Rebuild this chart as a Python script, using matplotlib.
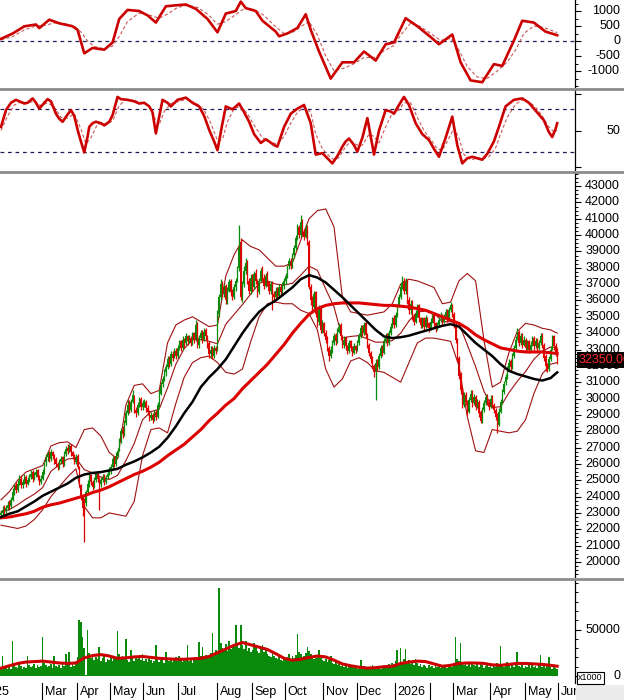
import numpy as np
import matplotlib
matplotlib.use('Agg')
import matplotlib.pyplot as plt
import matplotlib.transforms as mtransforms
from matplotlib.lines import Line2D
from matplotlib.patches import Rectangle


def nums(s):
    return np.array(s.split(), dtype=float)


# daily candles, prices in hundreds (one row per month)
opens = nums("""
229 230 233 231 233 236 234 238 243 247 244 248 251 247 249 252 248 250 252 255 251 253 256 252 249
251 255 261 264 267 263 267 265 263 260 258 261 264 260 266 270 268 271 267 265 261
265 258 247 240 238 236 243 248 253 249 246 250 254 251 248 250 253 249 252 254
256 258 264 260 265 269 274 281 278 285 291 297 293 298 301 293 291 296 300 295
297 298 294 292 288 290 287 292 289 296 303 309 312 316 319 325 321 327 326 329 326
331 335 331 336 334 338 335 337 334 340 336 346 333 337 341 336 342 338 334 327 331 326 331
330 352 362 371 364 369 360 366 372 365 362 368 372 380 396 362 370 378 384 372 366
374 368 377 372 365 372 379 374 369 376 371 366 371 364 362 367 363 368 365 369
372 375 381 384 381 388 392 398 405 400 408 402 399 405 396 368 361 356 365 352 347 356 342
346 340 337 331 326 330 334 339 335 341 345 338 333 337 332 329 335 331 328 332
330 334 338 344 340 346 339 333 328 325 320 316 323 319 326 332 328 335 339 334 340 344 349
345 351 357 362 369 372 366 372 360 354 359 350 347 352 357 349 345 349 344 349 346
343 347 351 346 343 345 349 351 347 350 354 349 354 357
352 345 336 325 314 305 296 302 298 292 299 304 297 301 296 298 292 286 293 297 302 298
295 301 296 293 290 284 292 298 304 310 313 318 323 319 326 331 337 341 334 339 333
336 331 335 330 333 337 332 336 331 334 339 333 326 320 318 324 331 338 332 330
""") * 100
highs = nums("""
232 234 235 235 237 238 240 245 248 249 250 253 253 251 254 253 252 254 256 256 255 257 257 253 253
257 261 266 268 268 269 268 266 264 261 263 265 265 268 271 272 272 272 268 266 266
266 259 248 241 239 244 250 254 254 250 252 255 255 252 252 254 254 253 256 258
260 265 265 267 270 276 282 283 287 293 299 299 300 305 302 295 298 301 301 299
300 299 296 293 292 291 293 293 298 305 310 314 318 321 326 326 329 329 331 331 333
336 336 338 337 340 339 339 338 341 341 348 347 339 342 342 343 343 339 335 332 332 333 332
354 364 373 372 370 370 368 373 373 367 370 374 381 406 398 372 381 386 385 374 376
376 378 379 373 374 380 381 376 377 378 372 372 372 366 368 368 370 370 371 374
377 382 386 386 389 394 400 407 406 412 410 404 407 406 397 370 363 366 366 354 357 357 348
347 342 338 332 332 336 340 340 343 346 346 339 338 338 333 336 336 332 334 333
336 340 345 345 347 347 340 334 329 326 321 324 324 328 333 333 337 340 340 342 346 350 351
353 358 364 371 375 374 374 373 362 360 360 352 354 358 358 350 350 350 351 350 347
349 352 352 347 347 350 353 352 352 355 355 356 359 358
353 346 337 326 316 307 304 304 299 301 305 305 303 302 300 299 293 295 299 303 303 300
302 302 297 294 291 294 300 306 311 315 320 324 324 328 333 338 343 342 340 340 338
337 336 336 335 338 338 337 337 336 340 340 334 327 322 326 332 339 339 334 331
""") * 100
lows = nums("""
227 229 229 230 232 232 233 237 241 242 243 247 245 245 248 246 247 249 251 249 250 252 250 247 248
250 254 259 262 261 262 263 260 258 256 257 260 258 259 265 266 267 265 263 260 260
257 246 238 228 212 234 242 246 247 244 245 249 249 232 246 249 247 248 251 253
254 257 258 259 264 268 273 276 277 284 290 291 292 297 291 289 290 295 293 293
295 292 290 286 287 285 286 287 288 295 302 307 311 314 318 319 320 323 325 324 325
330 329 330 331 333 333 334 332 333 334 335 331 331 336 334 335 336 331 325 325 324 325 327
329 350 360 362 362 358 358 365 363 360 361 366 371 378 360 359 368 376 370 364 364
366 367 370 362 364 371 372 367 368 369 364 364 354 360 360 361 362 363 364 367
370 374 379 379 380 386 391 397 398 399 400 397 398 394 367 357 353 354 350 344 345 340 340
338 334 329 323 325 328 333 333 334 340 336 331 331 330 327 328 329 326 327 328
329 333 337 338 339 337 331 326 322 318 313 299 317 318 325 326 327 334 332 333 339 343 343
344 350 356 361 367 364 364 358 352 352 348 345 346 350 347 343 343 342 343 344 341
342 346 344 341 342 344 347 345 346 349 347 348 353 350
343 334 323 312 303 294 295 296 290 291 298 295 296 293 294 289 285 285 292 296 296 293
294 294 291 287 279 283 291 297 303 308 312 317 317 318 325 330 336 332 333 331 332
329 330 328 329 332 330 331 329 330 333 331 323 317 316 317 323 330 330 326 321
""") * 100
closes = nums("""
230 232 231 233 235 234 238 243 246 244 248 250 247 249 251 248 250 252 254 251 253 255 252 249 251
255 260 264 266 263 267 265 262 260 258 261 263 260 266 269 268 270 267 265 262 264
258 247 240 233 235 243 248 252 249 246 250 253 251 248 250 252 249 251 254 256
258 263 260 265 268 274 280 278 285 291 296 293 298 302 293 291 296 299 295 297
298 294 292 288 290 287 291 289 296 303 308 312 316 319 324 321 327 325 329 326 331
334 331 336 333 338 335 337 334 339 336 345 333 337 340 336 341 338 333 327 330 326 331 329
352 362 370 364 368 360 366 371 365 362 368 372 378 392 362 370 378 383 372 366 374
368 376 372 365 372 378 374 369 375 371 366 370 364 362 366 363 368 365 369 372
375 380 384 381 387 392 398 404 400 408 402 399 404 396 368 360 356 364 352 347 355 342 346
340 336 331 326 330 334 338 335 341 344 338 333 336 332 329 334 331 328 332 330
334 338 343 340 345 339 333 328 324 320 316 322 319 326 331 328 335 338 334 340 344 348 345
351 356 362 368 372 366 371 360 354 358 350 347 352 356 349 345 348 344 349 346 343
347 350 346 343 345 348 351 347 350 353 349 354 357 352
345 336 325 314 305 296 302 298 292 299 303 297 301 295 298 291 286 293 297 301 298 295
300 296 293 289 284 292 298 304 309 313 318 322 319 326 331 336 340 334 338 333 336
331 334 330 333 336 332 335 331 334 338 333 325 320 318 324 330 337 332 328 323.5
""") * 100
# volume, thousands of the x1000 unit
volume = nums("""
8 22 9 10 7 11 8 38 12 10 9 13 11 8 10 9 22 12 10 11 13 9 12 10 11
42 14 12 10 11 13 9 22 11 10 12 9 13 11 24 12 26 10 13 11 14
20 60 58 42 30 1 49 25 19 22 17 20 18 31 16 19 21 15 18 17
20 16 22 19 48 24 18 21 20 40 17 15 28 19 16 21 18 22 17 24
16 18 15 19 17 14 16 33 18 15 20 17 14 26 19 16 18 15 17 20 16
22 17 15 19 18 33 16 19 14 17 20 18 37 21 31 19 23 22 20 25 46 24 28
26 95 36 30 28 34 27 38 29 33 31 55 35 30 55 33 29 38 27 30 26
28 35 31 27 25 29 33 26 29 24 22 20 25 22 19 18 21 17 16 19
18 20 24 17 21 19 23 45 26 24 20 22 25 31 27 24 20 18 19 22 28 19 17
16 18 15 17 22 14 13 15 12 14 11 13 10 12 9 11 10 12 9 11
8 10 17 9 11 8 10 7 9 12 8 10 7 9 8 11 9 12 10 13 11 14 12
16 28 13 30 15 18 29 14 17 13 15 12 18 14 11 13 10 12 11 9 12
10 11 9 12 10 13 9 11 10 12 9 11 13 10
12 42 18 16 35 14 12 15 11 13 10 14 12 11 13 10 15 12 9 11 13 10
11 9 12 10 14 11 32 13 10 12 15 11 9 13 10 12 26 11 10 12 9
11 10 13 9 12 10 11 9 12 23 10 11 9 12 20 10 8 11 9 7
""") * 1000

# smooth lines read every 5 bars (last point = last bar)
line_bars = np.r_[0:335:5, 334]
ma_black = nums("""
227.5 229.5 231 234 237 240.5 243 245.5 248 251.5
253.5 254.5 255 256 257 259.5 261.5 264 267 270.5
276 283 291 298 307 313 318 324 332 340
347 353 357 360 364 368 373 375.5 374 371
366.5 362 357 352 347 342 338 337 337.5 338.5
340 341.5 343 344.5 345.5 344 339 334 330 326
321 317 315 313.5 312 311 312.5 316
""") * 100
ma_red = nums("""
227 227.5 228.5 229.5 231 233.5 235 236 237.5 239
240.5 242.5 244 246 248.5 251 253.5 255.5 258 261
265 268.5 272 276.5 281 286.5 291 296 300 306
311 316 321 327 333 340 346 351.5 355 357
358 358.5 358.5 358.5 358 357.5 357 357 356.5 356
355 354 352 350 348 346 343 339 336 333.5
331 330 329 328.5 328.5 328.5 328 327.5
""") * 100
bb_upper = nums("""
238 243 250 255 257 259 271 273 273.5 270
281 282 277 267 263 296 308 309 303 305
334 345 348 350 347 344 345 375 388 397
393 391 386 381 381 383 397 410 415 416
405 362 353 352 351 352 353 358 370 373
372 370 368 358 359 372 376.5 372 336 307
310 328 341 346 345 343 342 340
""") * 100
bb_mid = nums("""
230.5 232 235 238.5 241.5 245.5 255.5 259.5 263 263.5
256.5 254.5 252 250.5 253 262 272.5 287 292 293.5
306.5 321 330.5 336 336 335 333.5 345.5 351.5 357.5
364 370.5 372 370 369.5 370.5 375.5 381 378.5 367
356 337 338 338.5 336.5 334.5 334.5 335.5 340 347.5
353 353.5 352.5 347 347 346 333 319.5 304.5 294.5
295 303.5 310.5 316.5 324 329 331.5 331
""") * 100
bb_lower = nums("""
222.5 221.5 220.5 222 226 232 240 246 252 257
234 227 227 230 229 228 237 265 281 282
279 297 313 322 325 326 322 316 315 318
335 350 358 359 358 358 354 352 342 318
307 312 323 325 322 317 316 313 310 322
334 337 337 336 335 320 289 268 267 281
280 279 280 287 303 315 321 322
""") * 100
vol_ma = nums("""
8.5 11 13.5 15 15.5 16 15 14 13.5 14
19.5 22 23 21.5 19 19.5 20.5 21 20 19
18.5 18 18 18.5 19 21 25 29 33 36
33.5 31 28.5 24 19 17 18 20 21.5 20.5
17 13 11 9.5 8.5 9 10 10.5 13.5 15
16 15.5 13 10.5 11.5 13.5 14 14 13.5 12
11.5 12.5 13.5 13.5 13 12.5 11.5 10.5
""") * 1000

# MACD and signal, read at turning points (bar, value)
macd_bars = [0, 7, 14, 21, 23, 29, 35, 43, 46, 50, 55, 62, 67, 71, 76, 83, 88, 93, 99, 105,
             111, 117, 124, 130, 135, 141, 144, 147, 153, 157, 165, 167, 172, 178, 183, 186, 191, 198, 205, 212,
             218, 225, 231, 236, 243, 250, 258, 263, 266, 271, 276, 282, 289, 296, 301, 308, 313, 320, 327, 334]
macd = [72, 250, 490, 550, 430, 710, 590, 490, 370, -410, -230, -290, -50, 735, 1036, 1000, 855, 615, 1157, 1190,
        1217, 1072, 735, 290, 915, 1000, 1313, 1097, 1000, 675, 313, 157, 253, 434, 892, 374, -350, -1253, -710, -710,
        -350, -650, -108, -48, 760, 494, 133, -108, 12, 217, -710, -1313, -1374, -771, -831, 12, 675, 615, 313, 193]
signal_bars = [0, 7, 14, 21, 26, 32, 38, 44, 48, 52, 56, 62, 67, 71, 76, 83, 90, 95, 100, 106,
               112, 118, 124, 130, 135, 141, 146, 152, 158, 165, 170, 175, 180, 185, 190, 195, 200, 206, 212, 218,
               224, 230, 236, 240, 246, 252, 258, 264, 270, 274, 280, 286, 292, 298, 304, 309, 314, 320, 326, 334]
signal = [40, 150, 370, 500, 520, 600, 580, 500, 300, 0, -180, -260, -170, 150, 650, 930, 850, 760, 900, 1120,
          1190, 1120, 900, 560, 650, 880, 1080, 1050, 850, 470, 250, 280, 480, 650, 200, -500, -1000, -900, -760, -550,
          -550, -330, -150, 200, 600, 480, 250, 20, 90, -200, -850, -1200, -1250, -1000, -700, -300, 250, 500, 450, 280]

# stochastic %K and %D (bar, value)
stoch_k_bars = [0, 3, 6, 9, 11, 14, 16, 19, 21, 23, 26, 28, 30, 33, 35, 37, 40, 42, 44, 46,
                48, 50, 52, 53, 55, 57, 60, 62, 65, 67, 70, 72, 76, 80, 83, 86, 89, 91, 93, 97,
                100, 102, 106, 111, 115, 119, 122, 125, 128, 130, 133, 135, 139, 143, 146, 149, 152, 156, 159, 161,
                164, 166, 170, 174, 178, 182, 186, 189, 193, 196, 199, 202, 205, 207, 209, 212, 214, 217, 220, 224,
                227, 231, 234, 236, 239, 242, 245, 249, 253, 257, 260, 263, 267, 271, 274, 277, 280, 283, 286, 289,
                292, 296, 299, 303, 308, 313, 317, 320, 323, 326, 329, 331, 333, 334]
stoch_k = [55, 78, 88, 92, 90, 87, 88, 94, 88, 80, 88, 93, 90, 73, 66, 62, 72, 78, 70, 51,
           35, 20, 42, 55, 60, 62, 60, 57, 62, 71, 96, 93, 92, 90, 87, 88, 83, 75, 46, 92,
           88, 83, 92, 95, 88, 83, 70, 51, 35, 23, 60, 83, 79, 87, 75, 62, 45, 33, 38, 35,
           30, 28, 55, 73, 80, 85, 60, 17, 19, 12, 5, 15, 28, 35, 39, 30, 21, 40, 67, 17,
           50, 78, 76, 73, 85, 96, 85, 60, 45, 37, 25, 14, 40, 69, 30, 5, 12, 14, 12, 10,
           18, 35, 55, 83, 92, 94, 88, 80, 72, 64, 48, 41, 52, 60]
stoch_d_bars = [0, 4, 8, 12, 16, 20, 24, 28, 32, 36, 40, 44, 48, 51, 54, 58, 63, 67, 71, 75,
                80, 85, 89, 92, 95, 98, 102, 107, 112, 118, 122, 126, 130, 133, 136, 140, 144, 148, 152, 157,
                161, 166, 170, 174, 178, 182, 186, 189, 193, 197, 200, 203, 207, 210, 214, 217, 221, 224, 227, 231,
                235, 239, 242, 246, 250, 254, 258, 262, 265, 268, 272, 275, 278, 282, 286, 290, 293, 297, 300, 304,
                309, 313, 318, 321, 325, 329, 332, 334]
stoch_d = [50, 70, 85, 89, 88, 90, 84, 88, 82, 68, 67, 73, 52, 32, 40, 59, 59, 63, 84, 93,
           91, 88, 85, 68, 58, 76, 87, 90, 93, 86, 78, 60, 36, 38, 62, 80, 83, 73, 57, 40,
           35, 31, 42, 60, 75, 82, 75, 45, 25, 15, 10, 13, 28, 35, 30, 30, 45, 42, 33, 55,
           74, 78, 88, 88, 68, 50, 38, 25, 23, 35, 53, 40, 17, 10, 12, 12, 14, 26, 45, 68,
           86, 92, 88, 82, 70, 55, 48, 50]

# month boundaries (bar index) for the time axis
month_bars = [-13, 25, 46, 66, 86, 107, 130, 151, 171, 194, 214, 237, 258, 272, 294, 315, 335]
month_names = ['2025', 'Mar', 'Apr', 'May', 'Jun', 'Jul', 'Aug', 'Sep', 'Oct', 'Nov', 'Dec',
               '2026', '', 'Mar', 'Apr', 'May', 'Jun']

last_price = 32350.00

plt.rcParams['font.family'] = ['Liberation Sans', 'DejaVu Sans']
W, H = 624.0, 700.0
fig = plt.figure(figsize=(W / 100, H / 100), dpi=100)
fig.patch.set_facecolor('white')


def panel(top, bottom):
    ax = fig.add_axes([0, 1 - bottom / H, 575 / W, (bottom - top) / H])
    for side in ['left', 'top', 'bottom']:
        ax.spines[side].set_visible(False)
    ax.spines['right'].set_linewidth(0.9)
    ax.set_xlim(-0.6, 344.7)
    ax.set_xticks([])
    ax.yaxis.tick_right()
    ax.tick_params(axis='y', which='major', length=4, width=0.8, labelright=False)
    ax.tick_params(axis='y', which='minor', length=2.2, width=0.7)
    return ax


def right_labels(ax, values, texts):
    tr = mtransforms.blended_transform_factory(fig.transFigure, ax.transData)
    for v, t in zip(values, texts):
        ax.text(620 / W, v, t, transform=tr, ha='right', va='center', fontsize=9,
                clip_on=False, zorder=3)


ax_macd = panel(0, 87)
ax_sto = panel(90, 170)
ax_main = panel(173, 577)
ax_vol = panel(580, 683)

# MACD
ax_macd.set_ylim(-1533, 1367)
ax_macd.axhline(0, color='#1c1c5a', lw=0.9, ls=(0, (3, 3)))
ax_macd.plot(signal_bars, signal, color='#c85a5a', lw=0.8, ls=(0, (3, 2)))
ax_macd.plot(macd_bars, macd, color='#cc0000', lw=1.9)
ax_macd.set_yticks([-1000, -500, 0, 500, 1000])
ax_macd.set_yticks(np.arange(-1500, 1400, 250), minor=True)
right_labels(ax_macd, [1000, 500, 0, -500, -1000], ['1000', '500', '0', '-500', '-1000'])

# stochastic
ax_sto.set_ylim(-4.1, 105.5)
ax_sto.axhline(80, color='#1c1c5a', lw=0.9, ls=(0, (3, 3)))
ax_sto.axhline(20, color='#1c1c5a', lw=0.9, ls=(0, (3, 3)))
ax_sto.plot(stoch_d_bars, stoch_d, color='#c85a5a', lw=0.8, ls=(0, (3, 2)))
ax_sto.plot(stoch_k_bars, stoch_k, color='#cc0000', lw=1.9)
ax_sto.set_yticks([0, 50, 100])
right_labels(ax_sto, [50], ['50'])

# price
bars = np.arange(len(closes))
up = closes >= opens
colors = np.where(up, '#0a8c0a', '#e00000')
ax_main.set_ylim(19080, 43800)
ax_main.plot(line_bars, bb_upper, color='#a01010', lw=0.8)
ax_main.plot(line_bars, bb_mid, color='#a01010', lw=0.8)
ax_main.plot(line_bars, bb_lower, color='#a01010', lw=0.8)
ax_main.vlines(bars, lows, highs, colors=colors, lw=0.9)
ax_main.bar(bars, np.maximum(np.abs(closes - opens), 40), bottom=np.minimum(opens, closes),
            width=0.8, color=colors, lw=0)
ax_main.plot(line_bars, ma_red, color='#dd0000', lw=2.2)
ax_main.plot(line_bars, ma_black, color='black', lw=1.8)
ax_main.set_yticks(np.arange(20000, 43001, 1000))
ax_main.set_yticks(np.arange(19250, 43800, 250), minor=True)
ticks = np.arange(20000, 43001, 1000)
right_labels(ax_main, ticks, [str(t) for t in ticks])
tr_main = mtransforms.blended_transform_factory(fig.transFigure, ax_main.transData)
ax_main.text(579 / W, last_price, f'{last_price:.2f}', transform=tr_main, ha='left', va='center',
             fontsize=9, color='#ff2a2a', clip_on=False, zorder=6,
             bbox=dict(boxstyle='square,pad=0.18', fc='black', ec='none'))

# volume
ax_vol.set_ylim(-7527, 103226)
ax_vol.bar(bars, volume, width=1.0, color='#0a8a0a', lw=0)
ax_vol.plot(line_bars, vol_ma, color='#cc0000', lw=2.2)
ax_vol.set_yticks([0, 50000])
ax_vol.set_yticks(np.arange(10000, 101000, 10000), minor=True)
right_labels(ax_vol, [50000, 0], ['50000', '0'])

# panel separators
for y in [88.5, 171.5, 578.5]:
    fig.add_artist(Line2D([0, 1], [1 - y / H] * 2, color='#8c8c8c', lw=2.0))

# time axis row
tr_x = mtransforms.blended_transform_factory(ax_vol.transData, fig.transFigure)
for pos, name in zip(month_bars, month_names):
    fig.add_artist(Line2D([pos - 0.5] * 2, [1 - 683 / H, 0], transform=tr_x, color='black', lw=0.8))
    fig.text(pos + 1.2, 1 - 692 / H, name, transform=tr_x, ha='left', va='center', fontsize=9)

fig.add_artist(Rectangle((576 / W, 0), 48 / W, 15 / H, transform=fig.transFigure,
                         facecolor='#ececec', edgecolor='none', zorder=5))
fig.add_artist(Rectangle((577 / W, 1 - 684 / H), 27 / W, 12 / H, transform=fig.transFigure,
                         facecolor='white', edgecolor='black', lw=0.8, zorder=5))
fig.text(590.5 / W, 1 - 678 / H, 'x1000', ha='center', va='center', fontsize=6.5, zorder=6)

fig.savefig('out.png', dpi=100)
